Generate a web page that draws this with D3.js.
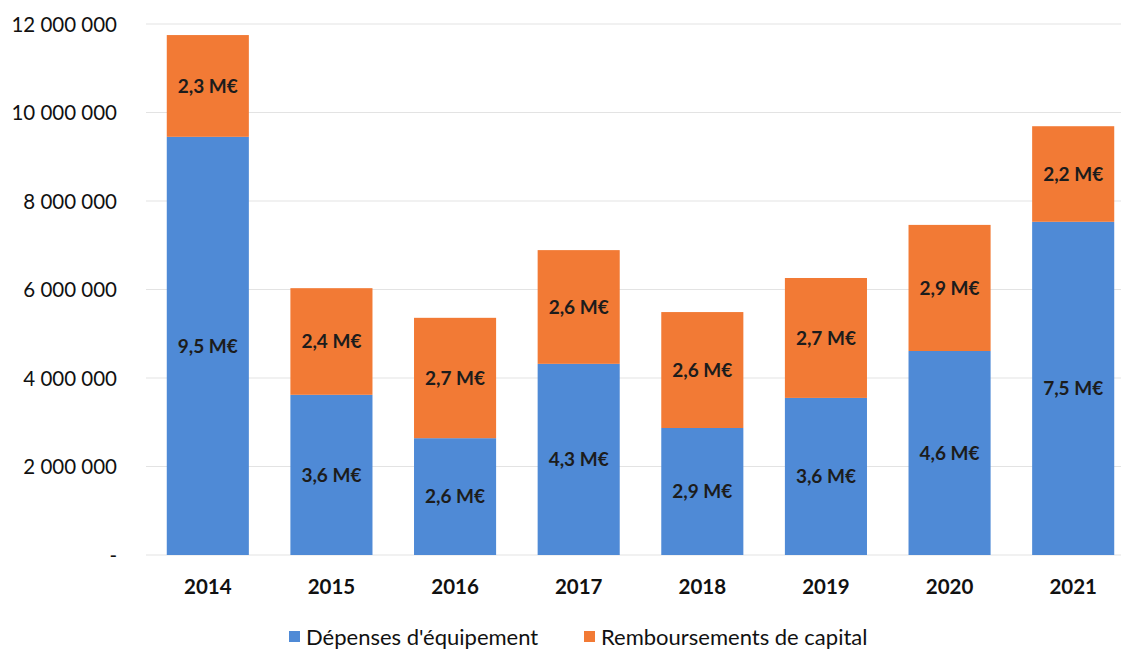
<!DOCTYPE html>
<html><head><meta charset="utf-8">
<script src="https://cdn.jsdelivr.net/npm/d3@7"></script>
<style>body{margin:0;background:#fff;} svg{display:block;}</style>
</head><body>
<svg id="c" width="1121" height="650"></svg>
<script>
const years = ["2014","2015","2016","2017","2018","2019","2020","2021"];
const depenses = [9450000, 3620000, 2640000, 4320000, 2870000, 3550000, 4610000, 7530000];
const remboursements = [2300000, 2410000, 2720000, 2570000, 2620000, 2710000, 2850000, 2160000];
const depLabels = ["9,5 M€","3,6 M€","2,6 M€","4,3 M€","2,9 M€","3,6 M€","4,6 M€","7,5 M€"];
const remLabels = ["2,3 M€","2,4 M€","2,7 M€","2,6 M€","2,6 M€","2,7 M€","2,9 M€","2,2 M€"];
const yTicks = [0, 2000000, 4000000, 6000000, 8000000, 10000000, 12000000];
const seriesNames = ["Dépenses d'équipement", "Remboursements de capital"];
const colors = ["#4f8ad6", "#f27a35"];

const svg = d3.select("#c");
const font = "Lato, 'Open Sans', sans-serif";
const x = d3.scaleBand().domain(years).range([146, 1135]).paddingInner(0.336).paddingOuter(0.168);
const y = d3.scaleLinear().domain([0, 12000000]).range([555, 24]);

// gridlines
svg.append("g").selectAll("line").data(yTicks).join("line")
  .attr("x1", 146).attr("x2", 1121)
  .attr("y1", d => y(d)).attr("y2", d => y(d))
  .attr("stroke", "#e3e3e3").attr("stroke-width", 1.2);

// y axis labels
const fmt = d => d === 0 ? "-" : d3.format(",")(d).replace(/,/g, " ");
const yAxis = d3.axisLeft(y).tickValues(yTicks).tickFormat(fmt).tickSize(0).tickPadding(0);
const ga = svg.append("g").attr("transform", "translate(117,0)").call(yAxis);
ga.select(".domain").remove();
ga.selectAll("text").attr("font-family", font).attr("font-size", 20.5).attr("fill", "#111").attr("dy", "0.35em");

// bars
const stacked = years.map((yr, i) => ({yr, i, d: depenses[i], r: remboursements[i]}));
const g = svg.append("g");
g.selectAll("rect.dep").data(stacked).join("rect")
  .attr("x", d => x(d.yr)).attr("width", x.bandwidth())
  .attr("y", d => y(d.d)).attr("height", d => y(0) - y(d.d))
  .attr("fill", colors[0]);
g.selectAll("rect.rem").data(stacked).join("rect")
  .attr("x", d => x(d.yr)).attr("width", x.bandwidth())
  .attr("y", d => y(d.d + d.r)).attr("height", d => y(d.d) - y(d.d + d.r))
  .attr("fill", colors[1]);

// labels
g.selectAll("text.dl").data(stacked).join("text")
  .attr("x", d => x(d.yr) + x.bandwidth()/2).attr("y", d => (y(0) + y(d.d))/2)
  .attr("text-anchor", "middle").attr("dy", "0.35em")
  .attr("font-family", font).attr("font-weight", "bold").attr("font-size", 19).attr("fill", "#1c1c1c")
  .text(d => depLabels[d.i]);
g.selectAll("text.rl").data(stacked).join("text")
  .attr("x", d => x(d.yr) + x.bandwidth()/2).attr("y", d => (y(d.d) + y(d.d + d.r))/2)
  .attr("text-anchor", "middle").attr("dy", "0.35em")
  .attr("font-family", font).attr("font-weight", "bold").attr("font-size", 19).attr("fill", "#1c1c1c")
  .text(d => remLabels[d.i]);

// x axis
const xAxis = d3.axisBottom(x).tickSize(0).tickPadding(0);
const gx = svg.append("g").attr("transform", "translate(0,587)").call(xAxis);
gx.select(".domain").remove();
gx.selectAll("text").attr("font-family", font).attr("font-weight", "bold").attr("font-size", 20.5).attr("fill", "#111").attr("dy", "0.35em");

// legend
const legX = [289, 584];
const lg = svg.append("g");
seriesNames.forEach((n, i) => {
  lg.append("rect").attr("x", legX[i]).attr("y", 631).attr("width", 11).attr("height", 11).attr("fill", colors[i]);
  lg.append("text").attr("x", legX[i] + 17).attr("y", 637).attr("dy", "0.35em")
    .attr("font-family", font).attr("font-size", 22).attr("fill", "#111").text(n);
});
</script>
</body></html>
